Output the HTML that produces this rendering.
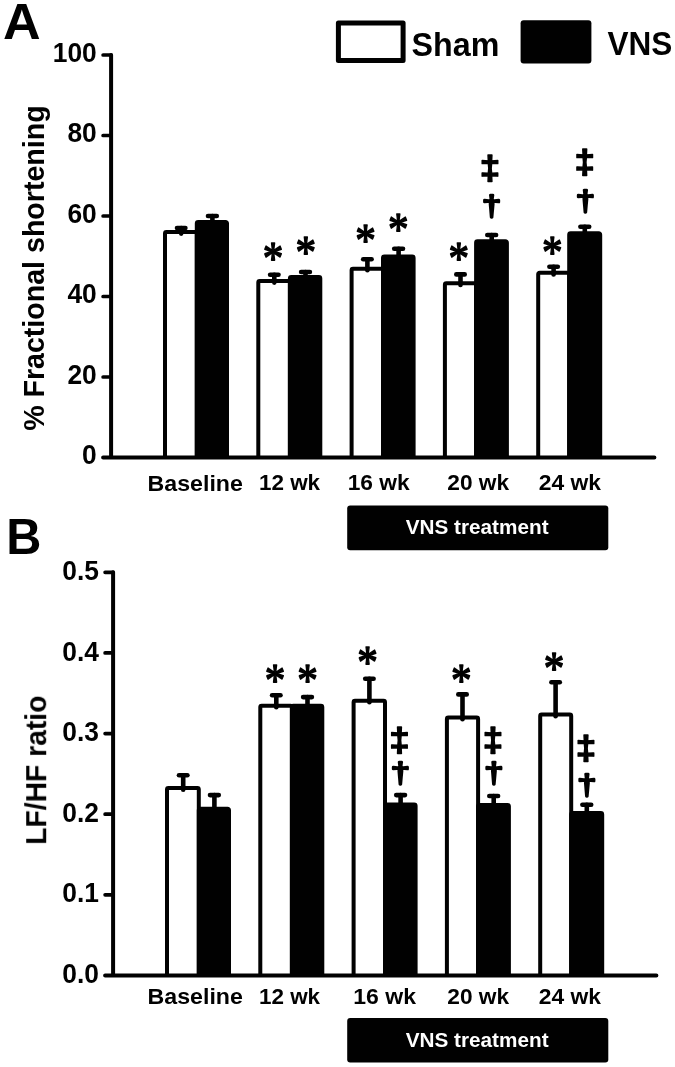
<!DOCTYPE html>
<html lang="en"><head><meta charset="utf-8"><title>Figure: fractional shortening and LF/HF ratio, Sham vs VNS</title>
<style>
html,body{margin:0;padding:0;background:#fff}
svg{display:block}
text{font-family:'Liberation Sans', Arial, Helvetica, sans-serif;font-weight:700;fill:#000}
text.ma{font-family:'Liberation Serif', 'Times New Roman', serif;font-weight:400;stroke:#000;stroke-width:1.35;stroke-linejoin:round}
text.md{font-family:'Liberation Serif', 'Times New Roman', serif;font-weight:400;stroke:#000;stroke-width:3;stroke-linejoin:round}
text.mdd{stroke:#000;stroke-width:1.4;stroke-linejoin:round}
text.w{fill:#fff}
.ax{fill:none;stroke:#000;stroke-width:4;stroke-linecap:round;stroke-linejoin:round}
.tk{fill:none;stroke:#000;stroke-width:3.7;stroke-linecap:round}
.e{fill:none;stroke:#000;stroke-width:4.6;stroke-linecap:round}
.c{fill:none;stroke:#000;stroke-width:4.6;stroke-linecap:round}
.bs{fill:#fff;stroke:#000;stroke-width:4;stroke-linejoin:round}
.bv{fill:#000;stroke:#000;stroke-width:4;stroke-linejoin:round}
</style></head><body>
<svg width="675" height="1067" viewBox="0 0 675 1067" role="img" aria-label="Bar charts of fractional shortening and LF/HF ratio for Sham and VNS groups">
<rect width="675" height="1067" fill="#fff"/>
<g opacity="0.9999">
<g id="panelA">
<path d="M165 457.5V233.4a1.4 1.4 0 0 1 1.4 -1.4H195.4a1.4 1.4 0 0 1 1.4 1.4V457.5" class="bs"/>
<path d="M181.2 233.6V228" class="e"/><path d="M177 228h8.4" class="c"/>
<path d="M196.8 457.5V223.5a1.4 1.4 0 0 1 1.4 -1.4H225.6a1.4 1.4 0 0 1 1.4 1.4V457.5" class="bv"/>
<path d="M212.4 222.1V216" class="e"/><path d="M208 216h8.8" class="c"/>
<path d="M258.3 457.5V282.4a1.4 1.4 0 0 1 1.4 -1.4H288.5a1.4 1.4 0 0 1 1.4 1.4V457.5" class="bs"/>
<path d="M274.3 282.6V274.7" class="e"/><path d="M270.1 274.7h8.4" class="c"/>
<path d="M289.9 457.5V278.4a1.4 1.4 0 0 1 1.4 -1.4H318.9a1.4 1.4 0 0 1 1.4 1.4V457.5" class="bv"/>
<path d="M305.5 277V272" class="e"/><path d="M301.1 272h8.8" class="c"/>
<path d="M351.6 457.5V270.1a1.4 1.4 0 0 1 1.4 -1.4H381.6a1.4 1.4 0 0 1 1.4 1.4V457.5" class="bs"/>
<path d="M367.4 270.3V259.3" class="e"/><path d="M363.2 259.3h8.4" class="c"/>
<path d="M383 457.5V258a1.4 1.4 0 0 1 1.4 -1.4H412.2a1.4 1.4 0 0 1 1.4 1.4V457.5" class="bv"/>
<path d="M398.6 256.6V248.7" class="e"/><path d="M394.2 248.7h8.8" class="c"/>
<path d="M444.9 457.5V284.7a1.4 1.4 0 0 1 1.4 -1.4H474.7a1.4 1.4 0 0 1 1.4 1.4V457.5" class="bs"/>
<path d="M460.5 284.9V274.4" class="e"/><path d="M456.3 274.4h8.4" class="c"/>
<path d="M476.1 457.5V242.7a1.4 1.4 0 0 1 1.4 -1.4H505.5a1.4 1.4 0 0 1 1.4 1.4V457.5" class="bv"/>
<path d="M491.7 241.3V235" class="e"/><path d="M487.3 235h8.8" class="c"/>
<path d="M538.2 457.5V274.2a1.4 1.4 0 0 1 1.4 -1.4H567.8a1.4 1.4 0 0 1 1.4 1.4V457.5" class="bs"/>
<path d="M553.6 274.4V266.7" class="e"/><path d="M549.4 266.7h8.4" class="c"/>
<path d="M569.2 457.5V234.7a1.4 1.4 0 0 1 1.4 -1.4H598.8a1.4 1.4 0 0 1 1.4 1.4V457.5" class="bv"/>
<path d="M584.8 233.3V226.8" class="e"/><path d="M580.4 226.8h8.8" class="c"/>
<path d="M111.1 55V457.5M103.1 457.5H654.4" class="ax"/>
<path d="M103.1 55H111.1M103.1 135.5H111.1M103.1 216H111.1M103.1 296.5H111.1M103.1 377H111.1" class="tk"/>
<text class="ma" transform="translate(262.8 274.49) scale(0.981 1.129)" font-size="42">*</text>
<text class="ma" transform="translate(295.6 267.79) scale(0.981 1.129)" font-size="42">*</text>
<text class="ma" transform="translate(355.3 256.39) scale(0.981 1.129)" font-size="42">*</text>
<text class="ma" transform="translate(388.1 244.99) scale(0.981 1.129)" font-size="42">*</text>
<text class="ma" transform="translate(448.6 274.29) scale(0.981 1.129)" font-size="42">*</text>
<text class="ma" transform="translate(542 268.19) scale(0.981 1.129)" font-size="42">*</text>
<text class="md" transform="translate(483.57 214.11) scale(0.956 0.806)" font-size="34">†</text>
<text class="mdd" transform="translate(479.71 179.04) scale(1.081 0.984)" font-size="34">‡</text>
<text class="md" transform="translate(577.17 208.51) scale(0.956 0.806)" font-size="34">†</text>
<text class="mdd" transform="translate(574.61 173.24) scale(1.081 0.984)" font-size="34">‡</text>
<text transform="translate(96.7 61.9) scale(0.945 1)" text-anchor="end" font-size="27.9">100</text>
<text transform="translate(96.7 142.4) scale(0.945 1)" text-anchor="end" font-size="27.9">80</text>
<text transform="translate(96.7 222.9) scale(0.945 1)" text-anchor="end" font-size="27.9">60</text>
<text transform="translate(96.7 303.4) scale(0.945 1)" text-anchor="end" font-size="27.9">40</text>
<text transform="translate(96.7 383.9) scale(0.945 1)" text-anchor="end" font-size="27.9">20</text>
<text transform="translate(96.7 464.4) scale(0.945 1)" text-anchor="end" font-size="27.9">0</text>
<text transform="translate(43.8 430.86) rotate(-90) scale(0.9859 1)" font-size="29">% Fractional shortening</text>
<text transform="translate(147.58 491.2) scale(1.0837 1)" font-size="21.4">Baseline</text>
<text transform="translate(258.95 490.1) scale(1.0110 1)" font-size="22.2">12 wk</text>
<text transform="translate(347.64 490.1) scale(1.0245 1)" font-size="22.2">16 wk</text>
<text transform="translate(447.32 490.1) scale(1.0231 1)" font-size="22.2">20 wk</text>
<text transform="translate(538.71 490.1) scale(1.0298 1)" font-size="22.2">24 wk</text>
<rect x="347.2" y="505.6" width="261.1" height="44.6" rx="3" fill="#000" transform="scale(1)"/>
<text transform="translate(405.69 534.2) scale(1.0076 1)" font-size="20.6" class="w">VNS treatment</text>
</g>
<g id="legend">
<rect x="338.4" y="23" width="64.7" height="37.6" fill="#fff" stroke="#000" stroke-width="5" stroke-linejoin="round"/>
<text transform="translate(411.53 55.6) scale(0.9568 1)" font-size="33.7">Sham</text>
<rect x="520.6" y="20.2" width="70.8" height="43.4" rx="3" fill="#000"/>
<text transform="translate(607.58 55.4) scale(0.9416 1)" font-size="33.5">VNS</text>
</g>
<text transform="translate(3.04 38.8) scale(1.0594 1)" font-size="49.2">A</text>
<text transform="translate(6.29 553.7) scale(0.9777 1)" font-size="49.8">B</text>
<g id="panelB">
<path d="M167 975.5V789.5a1.4 1.4 0 0 1 1.4 -1.4H197.4a1.4 1.4 0 0 1 1.4 1.4V975.5" class="bs"/>
<path d="M183.2 789.7V775.2" class="e"/><path d="M179 775.2h8.4" class="c"/>
<path d="M198.8 975.5V810.2a1.4 1.4 0 0 1 1.4 -1.4H227.6a1.4 1.4 0 0 1 1.4 1.4V975.5" class="bv"/>
<path d="M214.4 808.8V795.1" class="e"/><path d="M210 795.1h8.8" class="c"/>
<path d="M260.3 975.5V707.1a1.4 1.4 0 0 1 1.4 -1.4H290.5a1.4 1.4 0 0 1 1.4 1.4V975.5" class="bs"/>
<path d="M276.3 707.3V695.2" class="e"/><path d="M272.1 695.2h8.4" class="c"/>
<path d="M291.9 975.5V707.2a1.4 1.4 0 0 1 1.4 -1.4H320.9a1.4 1.4 0 0 1 1.4 1.4V975.5" class="bv"/>
<path d="M307.5 705.8V697.1" class="e"/><path d="M303.1 697.1h8.8" class="c"/>
<path d="M353.6 975.5V702.1a1.4 1.4 0 0 1 1.4 -1.4H383.6a1.4 1.4 0 0 1 1.4 1.4V975.5" class="bs"/>
<path d="M369.4 702.3V678.8" class="e"/><path d="M365.2 678.8h8.4" class="c"/>
<path d="M385 975.5V805.8a1.4 1.4 0 0 1 1.4 -1.4H414.2a1.4 1.4 0 0 1 1.4 1.4V975.5" class="bv"/>
<path d="M400.6 804.4V795.1" class="e"/><path d="M396.2 795.1h8.8" class="c"/>
<path d="M446.9 975.5V719a1.4 1.4 0 0 1 1.4 -1.4H476.7a1.4 1.4 0 0 1 1.4 1.4V975.5" class="bs"/>
<path d="M462.5 719.2V694.4" class="e"/><path d="M458.3 694.4h8.4" class="c"/>
<path d="M478.1 975.5V806.3a1.4 1.4 0 0 1 1.4 -1.4H507.5a1.4 1.4 0 0 1 1.4 1.4V975.5" class="bv"/>
<path d="M493.7 804.9V796" class="e"/><path d="M489.3 796h8.8" class="c"/>
<path d="M540.2 975.5V716a1.4 1.4 0 0 1 1.4 -1.4H569.8a1.4 1.4 0 0 1 1.4 1.4V975.5" class="bs"/>
<path d="M555.6 716.2V682.2" class="e"/><path d="M551.4 682.2h8.4" class="c"/>
<path d="M571.2 975.5V814.5a1.4 1.4 0 0 1 1.4 -1.4H600.8a1.4 1.4 0 0 1 1.4 1.4V975.5" class="bv"/>
<path d="M586.8 813.1V804.7" class="e"/><path d="M582.4 804.7h8.8" class="c"/>
<path d="M113.1 572.3V975.5M105.1 975.5H656.4" class="ax"/>
<path d="M105.1 572.3H113.1M105.1 652.94H113.1M105.1 733.58H113.1M105.1 814.22H113.1M105.1 894.86H113.1" class="tk"/>
<text class="ma" transform="translate(264.7 695.79) scale(0.981 1.129)" font-size="42">*</text>
<text class="ma" transform="translate(297.2 695.79) scale(0.981 1.129)" font-size="42">*</text>
<text class="ma" transform="translate(357.3 678.19) scale(0.981 1.129)" font-size="42">*</text>
<text class="ma" transform="translate(450.9 696.29) scale(0.981 1.129)" font-size="42">*</text>
<text class="ma" transform="translate(543.7 683.79) scale(0.981 1.129)" font-size="42">*</text>
<text class="mdd" transform="translate(389.21 751.04) scale(1.081 0.984)" font-size="34">‡</text>
<text class="md" transform="translate(392.27 781.21) scale(0.956 0.806)" font-size="34">†</text>
<text class="mdd" transform="translate(482.71 751.34) scale(1.081 0.984)" font-size="34">‡</text>
<text class="md" transform="translate(485.68 781.21) scale(0.956 0.806)" font-size="34">†</text>
<text class="mdd" transform="translate(575.71 759.04) scale(1.081 0.984)" font-size="34">‡</text>
<text class="md" transform="translate(578.77 792.61) scale(0.956 0.806)" font-size="34">†</text>
<text transform="translate(98.9 580) scale(0.945 1)" text-anchor="end" font-size="27.9">0.5</text>
<text transform="translate(98.9 660.5) scale(0.945 1)" text-anchor="end" font-size="27.9">0.4</text>
<text transform="translate(98.9 741) scale(0.945 1)" text-anchor="end" font-size="27.9">0.3</text>
<text transform="translate(98.9 821.5) scale(0.945 1)" text-anchor="end" font-size="27.9">0.2</text>
<text transform="translate(98.9 902) scale(0.945 1)" text-anchor="end" font-size="27.9">0.1</text>
<text transform="translate(98.9 982.5) scale(0.945 1)" text-anchor="end" font-size="27.9">0.0</text>
<text transform="translate(46.2 844.78) rotate(-90) scale(0.9888 1)" font-size="28.6">LF/HF ratio</text>
<text transform="translate(147.58 1004.2) scale(1.0837 1)" font-size="21.4">Baseline</text>
<text transform="translate(258.95 1004) scale(1.0110 1)" font-size="22.2">12 wk</text>
<text transform="translate(353.22 1004) scale(1.0381 1)" font-size="22.2">16 wk</text>
<text transform="translate(447.32 1004) scale(1.0231 1)" font-size="22.2">20 wk</text>
<text transform="translate(538.71 1004) scale(1.0298 1)" font-size="22.2">24 wk</text>
<rect x="347.2" y="1018" width="261.1" height="44.6" rx="3" fill="#000"/>
<text transform="translate(405.69 1046.6) scale(1.0076 1)" font-size="20.6" class="w">VNS treatment</text>
</g>
</g>
</svg>
</body></html>
